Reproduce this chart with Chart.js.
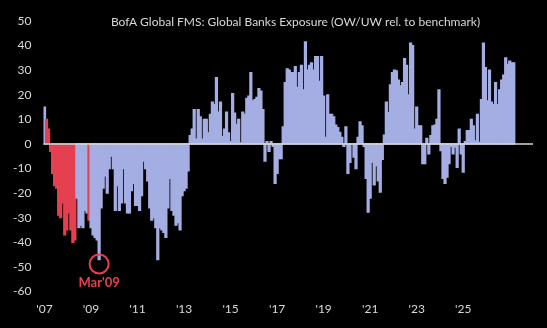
<!DOCTYPE html>
<html>
<head>
<meta charset="utf-8">
<script src="https://cdn.jsdelivr.net/npm/chart.js@4"></script>
<style>
html,body{margin:0;padding:0;background:#000;}
#wrap{width:547px;height:328px;}
</style>
</head>
<body>
<div id="wrap"><canvas id="c" width="547" height="328"></canvas></div>
<script>
// ---- data ----
const chartTitle = "BofA Global FMS: Global Banks Exposure (OW/UW rel. to benchmark)";
const tickLabels = ["'07","'09","'11","'13","'15","'17","'19","'21","'23","'25"];
const tickSlots  = [0, 23, 46, 69, 92, 115, 138, 161, 184, 207];
const totalSlots = 242;
const values = [
  15, 10, 6, -3, -12, -17, -18, -29, -30, -24, -37, -35, -28, -35, -40, -39,
  -22, -34, -33, -34, -27, -28, -31, -34, -37, -38, -39, -47, -26, -18, -13, -20,
  -10, -5, -10, -27, -17, -27, -24, -10, -24, -28, -28, -19, -16, -25, -25, -27,
  -21, -7, -10, -15, -26, -31, -30, -34, -47, -34, -35, -36, -38, -26, -14, -27,
  -29, -33, -32, -35, -21, -19, -18, -11,
  3.4, 6, 14, 2, 14, 11, 2, 10, 10, 4.5,
  12, 17, 16, 27, 13, 17, 3, 6, 13, 4.5,
  1, 20.5, 12.5, 8, 10, 0.5, 13, 12, 18.5, 19.5,
  29, 17.5, 18, 19, 22.5, 21.5, 14, -7, 1, -3,
  1, -1, -16, -12, -6, -6, 7, 25, 30.5, 30,
  29, 29, 31.5, 23, 29, 32, 22, 41.5, 30, 32,
  33, 30, 35.5, 35.5, 25.5, 35.5, 19.5, 2.7, 20, 12,
  12, 11, 7.7, 6.7, 4.7, 2.7, -1, 7, -12, -7.5,
  0, -5.4, -10,
  2.7, 9, 7.4, -1, -14, -27.7, -22, -7.4, -16.6, -8.8,
  -15, -19.6, -6.3, 3.6, 17, 12.8, 24, 29, 30, 29.7,
  26, 23.6, 25, 34.7, 32, 20, 41, 40, 6, 15,
  7.4, 7.4, -8, -8, 2.3, -4, 3.4, 7.4, 7.7, 10,
  22, -2.7, -14, -16, -13.5, -8, -1, -4, -1.3, -9.5,
  6, -4, -11.5, 1, 5.4, 5.4, 10, 7.4, 1.3, 12,
  0.7, 18, 41, 31, 17.5, 30, 17, 16, 25, 16,
  22, 26, 28, 35, 32.4, 33.7, 33, 33
];
const redSlots = [1,2,3,4,5,6,7,8,9,10,11,12,13,14,15,22];
const annotSlot = 27;
const annotLabel = "Mar'09";

// ---- build library inputs ----
const labels = [];
const data = [];
for (let i = 0; i < totalSlots; i++) {
  const t = tickSlots.indexOf(i);
  labels.push(t >= 0 ? tickLabels[t] : '');
  data.push(i < values.length ? values[i] : null);
}
const BLUE = '#a4aee2', RED = '#e5404f', TXT = '#d9d9d9';
const colors = data.map((v, i) => redSlots.includes(i) ? RED : BLUE);

const overlay = {
  id: 'overlay',
  afterDatasetsDraw(chart) {
    const {ctx, chartArea, scales} = chart;
    const y0 = scales.y.getPixelForValue(0);
    ctx.save();
    ctx.strokeStyle = '#d9d9d9';
    ctx.lineWidth = 1.5;
    ctx.beginPath();
    ctx.moveTo(chartArea.left, y0);
    ctx.lineTo(chartArea.right, y0);
    ctx.stroke();
    // title
    ctx.fillStyle = TXT;
    ctx.font = '12px Lato';
    ctx.textAlign = 'center';
    ctx.textBaseline = 'middle';
    ctx.fillText(chartTitle, 295.5, 22);
    // annotation
    const ax = scales.x.getPixelForValue(annotSlot);
    const ay = scales.y.getPixelForValue(values[annotSlot]) + 4.5;
    ctx.strokeStyle = RED;
    ctx.lineWidth = 2;
    ctx.beginPath();
    ctx.arc(ax, ay, 9.5, 0, Math.PI * 2);
    ctx.stroke();
    ctx.fillStyle = RED;
    ctx.font = 'bold 13px Lato';
    ctx.fillText(annotLabel, ax, ay + 19);
    ctx.restore();
  }
};

new Chart(document.getElementById('c'), {
  type: 'bar',
  data: {
    labels: labels,
    datasets: [{
      data: data,
      backgroundColor: colors,
      borderWidth: 0,
      barPercentage: 1,
      categoryPercentage: 1,
      inflateAmount: 0.6
    }]
  },
  options: {
    responsive: false,
    devicePixelRatio: 1,
    animation: false,
    layout: {padding: {top: 21, right: 14, left: 0, bottom: 0}},
    plugins: {legend: {display: false}, tooltip: {enabled: false}, title: {display: false}},
    scales: {
      x: {
        type: 'category',
        offset: true,
        grid: {display: false, drawTicks: false},
        border: {display: false},
        ticks: {
          autoSkip: false, maxRotation: 0, minRotation: 0,
          color: TXT, font: {family: 'Lato', size: 12}, padding: 10,
          callback: function(v, i) { return labels[i]; }
        },
        afterFit(s) { s.height = 36.5; }
      },
      y: {
        min: -60, max: 50,
        grid: {display: false, drawTicks: false},
        border: {display: false},
        ticks: {stepSize: 10, color: TXT, font: {family: 'Lato', size: 12}, padding: 12},
        afterFit(s) { s.width = 43.5; }
      }
    }
  },
  plugins: [overlay]
});
</script>
</body>
</html>
